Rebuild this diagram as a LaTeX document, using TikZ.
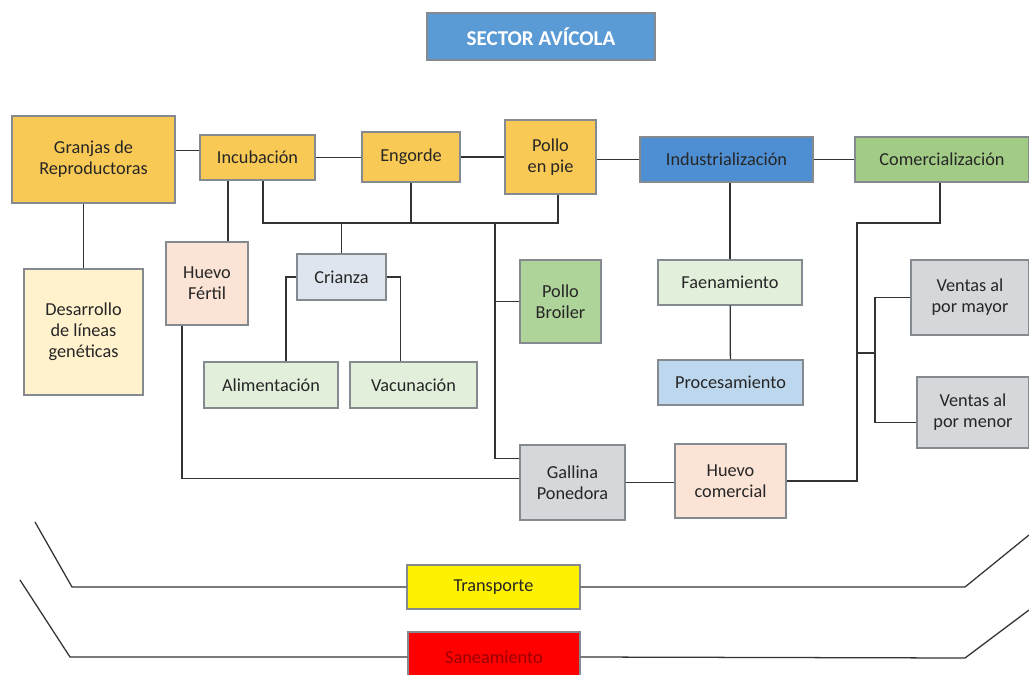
\documentclass[tikz,border=0pt]{standalone}
\usepackage{fontspec}
\setmainfont{Carlito}
\newdimen\pxu \pxu=0.025cm
\definecolor{boxline}{HTML}{858A91}
\definecolor{linkc}{HTML}{333333}
\definecolor{txt}{HTML}{262626}
\definecolor{gold}{HTML}{F9C955}
\definecolor{titleblue}{HTML}{5B9BD5}
\definecolor{indblue}{HTML}{4E8FD3}
\definecolor{comgreen}{HTML}{A2CC85}
\definecolor{paleyellow}{HTML}{FFF2CC}
\definecolor{peach}{HTML}{FBE3D5}
\definecolor{bluegray}{HTML}{DFE5EE}
\definecolor{palegreen}{HTML}{E2EFDA}
\definecolor{broilgreen}{HTML}{AED49A}
\definecolor{paleblue}{HTML}{BDD7EE}
\definecolor{grayfill}{HTML}{D5D7DB}
\begin{document}
\begin{tikzpicture}[x=0.025cm,y=-0.025cm,
    box/.style={draw=boxline,line width=1pt,inner sep=0pt,align=center,
      text=txt,font=\fontsize{13}{15}\selectfont},
    link/.style={draw=linkc,line width=0.9pt}]
  \useasboundingbox (0,0) rectangle (1029,675);

  \node[box,fill=titleblue,text=white,minimum width=228\pxu,minimum height=47\pxu,
    font=\fontsize{15}{17}\selectfont\bfseries] (title) at (541,36.5) {SECTOR AVÍCOLA};

  \node[box,fill=gold,minimum width=163\pxu,minimum height=87\pxu] (granjas) at (93.5,159.5) {Granjas de\\Reproductoras};
  \node[box,fill=gold,minimum width=115\pxu,minimum height=45\pxu] (incub) at (257.5,157.5) {Incubación};
  \node[box,fill=gold,minimum width=98\pxu,minimum height=50\pxu] (engorde) at (411,157) {Engorde};
  \node[box,fill=gold,minimum width=91\pxu,minimum height=74\pxu] (pollo) at (550.5,157) {Pollo\\en pie};
  \node[box,fill=indblue,minimum width=173\pxu,minimum height=45\pxu] (indus) at (726.5,159.5) {Industrialización};
  \node[box,fill=comgreen,minimum width=174\pxu,minimum height=45\pxu] (comer) at (942,159.5) {Comercialización};

  \node[box,fill=paleyellow,minimum width=119\pxu,minimum height=126\pxu] (desarrollo) at (83.5,332) {Desarrollo\\de líneas\\genéticas};
  \node[box,fill=peach,minimum width=82\pxu,minimum height=83\pxu] (huevoF) at (207,283.5) {Huevo\\Fértil};
  \node[box,fill=bluegray,minimum width=89\pxu,minimum height=46\pxu] (crianza) at (341.5,277) {Crianza};
  \node[box,fill=palegreen,minimum width=134\pxu,minimum height=46\pxu] (alim) at (271,385) {Alimentación};
  \node[box,fill=palegreen,minimum width=127\pxu,minimum height=46\pxu] (vacun) at (413.5,385) {Vacunación};
  \node[box,fill=broilgreen,minimum width=81\pxu,minimum height=83\pxu] (broiler) at (560.5,301.5) {Pollo\\Broiler};
  \node[box,fill=palegreen,minimum width=144\pxu,minimum height=45\pxu] (faen) at (730,282.5) {Faenamiento};
  \node[box,fill=paleblue,minimum width=145\pxu,minimum height=45\pxu] (proces) at (730.5,382.5) {Procesamiento};
  \node[box,fill=grayfill,minimum width=118\pxu,minimum height=75\pxu] (mayor) at (970,297.5) {Ventas al\\por mayor};
  \node[box,fill=grayfill,minimum width=112\pxu,minimum height=71\pxu] (menor) at (973,412.5) {Ventas al\\por menor};
  \node[box,fill=grayfill,minimum width=105\pxu,minimum height=75\pxu] (gallina) at (572.5,482.5) {Gallina\\Ponedora};
  \node[box,fill=peach,minimum width=111\pxu,minimum height=74\pxu] (huevoC) at (730.5,481) {Huevo\\comercial};

  \node[box,fill=yellow,minimum width=173\pxu,minimum height=44\pxu] (transp) at (493.5,587) {Transporte};
  \node[box,fill=red,text=red!60!black,minimum width=172\pxu,minimum height=50\pxu] (sanea) at (494,657) {Saneamiento};

  \coordinate (b1) at (263,223);
  \coordinate (b2) at (558,223);
  \coordinate (b3) at (495,223);
  \coordinate (c1) at (857,223);
  \coordinate (c2) at (875,353);
  \coordinate (t1) at (35,522);
  \coordinate (t2) at (72,587);
  \coordinate (t3) at (965,587);
  \coordinate (t4) at (1029,535);
  \coordinate (s1) at (20,580);
  \coordinate (s2) at (70,657);
  \coordinate (s3) at (965,658);
  \coordinate (s4) at (1029,610);

  \draw[link] ([yshift=7\pxu]incub.west) -- ([yshift=7\pxu]incub.west -| granjas.east);
  \draw[link] (incub.east) -- (incub.east -| engorde.west);
  \draw[link] (engorde.east) -- (engorde.east -| pollo.west);
  \draw[link] (indus.west -| pollo.east) -- (indus.west);
  \draw[link] (indus.east) -- (comer.west);
  \draw[link] (desarrollo.north) -- (desarrollo.north |- granjas.south);
  \draw[link] ([xshift=21\pxu]huevoF.north) -- ([xshift=21\pxu]huevoF.north |- incub.south);

  \draw[link] (b1 |- incub.south) -- (b1) -- (b2) -- (b2 |- pollo.south);
  \draw[link] (engorde.south) -- (engorde.south |- b1);
  \draw[link] (crianza.north) -- (crianza.north |- b1);
  \draw[link] (crianza.west) -| ([xshift=15\pxu]alim.north);
  \draw[link] (crianza.east) -| ([xshift=-13\pxu]vacun.north);
  \draw[link] (b3) |- ([yshift=24\pxu]gallina.west);
  \draw[link] (b3 |- broiler.west) -- (broiler.west);
  \draw[link] ([xshift=-25\pxu]huevoF.south) |- ([yshift=4\pxu]gallina.west);
  \draw[link] (gallina.east) -- (gallina.east -| huevoC.west);

  \draw[link] (faen.north) -- (faen.north |- indus.south);
  \draw[link] (faen) -- (proces);
  \draw[link] ([xshift=-2\pxu]comer.south) |- (c1) -- (c1 |- huevoC.east) -- (huevoC.east);
  \draw[link] (c1 |- c2) -- (c2);
  \draw[link] (mayor.west) -| (c2) |- ([yshift=-10\pxu]menor.west);

  \draw[link] (t1) -- (t2) -- (transp.west);
  \draw[link] (transp.east) -- (t3) -- (t4);
  \draw[link] (s1) -- (s2) -- (sanea.west);
  \draw[link] (sanea.east) -- (s3) -- (s4);
\end{tikzpicture}
\end{document}
